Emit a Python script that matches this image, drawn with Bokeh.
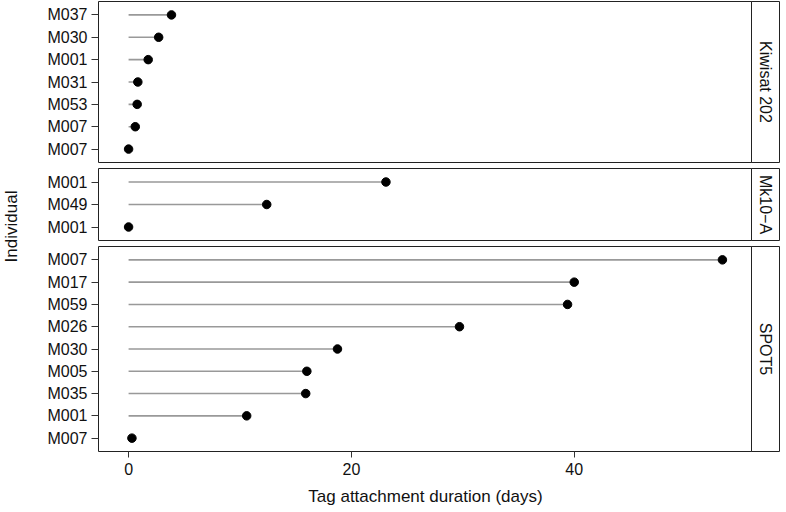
import math
from bokeh.plotting import figure
from bokeh.layouts import row, column
from bokeh.models import Range1d, FixedTicker, ColumnDataSource
from bokeh.core.properties import value
from bokeh.embed import file_html
from bokeh.resources import INLINE

# ---- data (rows listed bottom to top within each panel) ----
panel_names = ["Kiwisat 202", "Mk10\u2212A", "SPOT5"]

kiwisat_ids = ["M007", "M007", "M053", "M031", "M001", "M030", "M037"]
kiwisat_days = [0.0, 0.6, 0.77, 0.83, 1.76, 2.7, 3.85]

mk10_ids = ["M001", "M049", "M001"]
mk10_days = [0.0, 12.4, 23.1]

spot5_ids = ["M007", "M001", "M035", "M005", "M030", "M026", "M059", "M017", "M007"]
spot5_days = [0.3, 10.6, 15.9, 16.0, 18.75, 29.7, 39.4, 40.0, 53.3]

x_ticks = [0, 20, 40]
x_title = "Tag attachment duration (days)"
y_title = "Individual"

# ---- layout constants ----
FONT = "Liberation Sans"
TXT = "#111111"
UNIT = 22.4
PAD = 0.6
LEFT_W = 22
BORDER_LEFT = 76
FRAME_W = 654
PANEL_W = BORDER_LEFT + FRAME_W
STRIP_W = 29
BOTTOM = 56
GAP = 4
x_range = Range1d(-2.7, 56.0)

panels = [(kiwisat_ids, kiwisat_days), (mk10_ids, mk10_days), (spot5_ids, spot5_days)]

rows = []
total_h = 0
for i, ((ids, days), name) in enumerate(zip(panels, panel_names)):
    n = len(ids)
    frame_h = round((n - 1 + 2 * PAD) * UNIT)
    last = i == len(panels) - 1
    bb = BOTTOM if last else 1
    h = frame_h + 1 + bb
    total_h += h + (GAP if i > 0 else 0)
    pos = list(range(1, n + 1))
    src = ColumnDataSource(dict(y=pos, x=days, x0=[0] * n))
    p = figure(width=PANEL_W, height=h, x_range=x_range,
               y_range=Range1d(1 - PAD, n + PAD),
               output_backend="svg", toolbar_location=None,
               x_axis_location="below" if last else None,
               min_border_left=BORDER_LEFT, min_border_right=0,
               min_border_top=1, min_border_bottom=bb)
    p.segment(x0="x0", y0="y", x1="x", y1="y", source=src,
              line_color="#999999", line_width=1.6)
    p.scatter(x="x", y="y", source=src, size=8.5,
              fill_color="black", line_color="black")
    p.grid.visible = False
    p.outline_line_color = "#222222"
    p.outline_line_width = 1
    p.background_fill_color = "white"
    p.border_fill_color = "white"
    ya = p.yaxis[0]
    ya.ticker = FixedTicker(ticks=pos)
    ya.major_label_overrides = {k: lab for k, lab in zip(pos, ids)}
    ya.axis_line_color = None
    ya.minor_tick_line_color = None
    ya.major_tick_out = 7
    ya.major_tick_in = 0
    ya.major_tick_line_color = "#333333"
    ya.major_label_standoff = 4
    ya.major_label_text_font = FONT
    ya.major_label_text_font_size = "16px"
    ya.major_label_text_color = TXT
    if last:
        xa = p.xaxis[0]
        xa.ticker = FixedTicker(ticks=x_ticks)
        xa.axis_line_color = None
        xa.minor_tick_line_color = None
        xa.major_tick_out = 6
        xa.major_tick_in = 0
        xa.major_tick_line_color = "#333333"
        xa.major_label_standoff = 5
        xa.major_label_text_font = FONT
        xa.major_label_text_font_size = "16px"
        xa.major_label_text_color = TXT
        xa.axis_label = x_title
        xa.axis_label_text_font = FONT
        xa.axis_label_text_font_size = "17px"
        xa.axis_label_text_font_style = "normal"
        xa.axis_label_standoff = 9
        xa.axis_label_text_color = TXT

    # strip box; overlaps the panel by one pixel so their borders coincide
    s = figure(width=STRIP_W, height=h, x_range=Range1d(0, 1),
               y_range=Range1d(0, 1), output_backend="svg",
               toolbar_location=None, x_axis_location=None,
               y_axis_location=None, min_border_left=0, min_border_right=1,
               min_border_top=1, min_border_bottom=bb)
    s.styles = {"margin-left": "-1px"}
    s.grid.visible = False
    s.outline_line_color = "#222222"
    s.background_fill_color = "white"
    s.border_fill_color = None
    s.background_fill_alpha = 0
    s.text(x=[0.5], y=[0.5], text=[name], angle=-math.pi / 2,
           text_align="center", text_baseline="middle",
           text_font=value(FONT), text_font_size="16px", text_color=TXT)
    rows.append(row(p, s, spacing=0))

panel_col = column(*rows, spacing=GAP)

# y-axis title spanning all panels
panel_span = total_h - BOTTOM
lf = figure(width=LEFT_W, height=total_h, x_range=Range1d(0, 1),
            y_range=Range1d(0, total_h), output_backend="svg",
            toolbar_location=None, x_axis_location=None,
            y_axis_location=None, min_border=0)
lf.grid.visible = False
lf.outline_line_color = None
lf.text(x=[0.5], y=[BOTTOM + panel_span / 2], text=[y_title], angle=math.pi / 2,
        text_align="center", text_baseline="middle",
        text_font=value(FONT), text_font_size="17px", text_color=TXT)

layout = row(lf, panel_col, spacing=0)

open("out.html", "w").write(file_html(layout, INLINE))
